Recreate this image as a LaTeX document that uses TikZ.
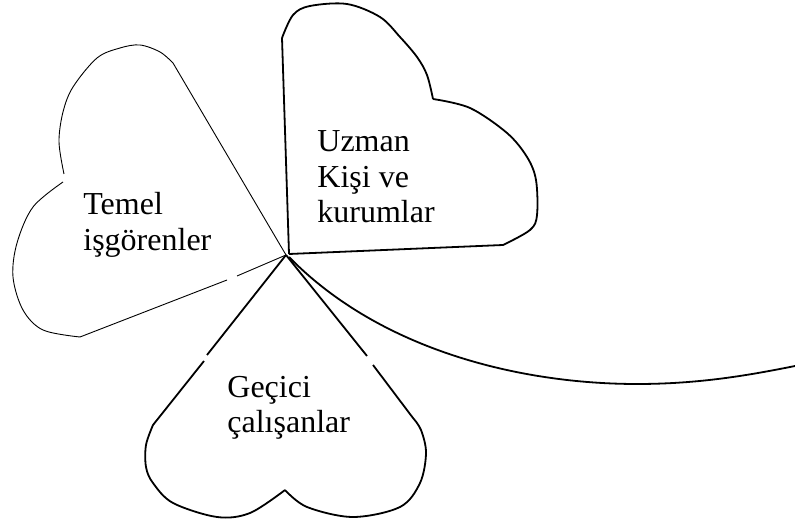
\documentclass[tikz,border=0pt]{standalone}
\usepackage{fontspec}
\setmainfont{Liberation Serif}
\begin{document}
\begin{tikzpicture}[x=0.5pt,y=-0.5pt,
  thinleaf/.style={line width=0.45pt,line join=round},
  thickleaf/.style={line width=0.9pt,line join=round},
  label/.style={anchor=base west,inner sep=0pt,font=\fontsize{16}{17.75}\selectfont}]
\useasboundingbox (0,0) rectangle (795,522);
\coordinate (c) at (286,255);
% left leaf (thin)
\draw[thinleaf] plot[smooth,tension=0.55] coordinates {(64,174) (59,142) (63,112) (73,87) (97,58) (120,48) (140,45) (160,52) (173,63)} -- (c);
\draw[thinleaf] (c) -- (237,276);
\draw[thinleaf] (227,280) -- (80,337);
\draw[thinleaf] plot[smooth,tension=0.55] coordinates {(80,337) (43,330) (23,310) (13,277) (17,243) (33,207) (63,182)};
% upper leaf
\coordinate (uc) at (289,254);
\draw[thickleaf] (uc) -- (282,38)
  plot[smooth,tension=0.55] coordinates {(282,38) (293,15) (310,6) (347,4) (380,17) (400,37) (417,57) (427,75) (433,99)}
  plot[smooth,tension=0.55] coordinates {(433,99) (470,108) (507,133) (527,157) (536,180) (537,215) (530,230) (503,245)}
  -- (uc);
% bottom leaf
\draw[thickleaf] (c) -- (207,355);
\draw[thickleaf] (204,361) -- (153,425)
  plot[smooth,tension=0.55] coordinates {(153,425) (146,445) (146,467) (153,483) (173,503) (217,517) (250,513) (285,490)}
  plot[smooth,tension=0.55] coordinates {(285,490) (307,507) (353,517) (400,507) (420,483) (426,453) (421,430) (413,418)}
  -- (373,365);
\draw[thickleaf] (367,356) -- (c);
% stem
\coordinate (stemend) at (795,366);
\draw[thickleaf] (289,257) .. controls (380,350) and (520,384) .. (637,384)
  .. controls (700,384) and (750,375) .. (stemend);
% labels
\node[label] (temel) at (83,215) {\begin{tabular}[t]{@{}l@{}}Temel\\işgörenler\end{tabular}};
\node[label] (uzman) at (317,152) {\begin{tabular}[t]{@{}l@{}}Uzman\\Kişi ve\\kurumlar\end{tabular}};
\node[label] (gecici) at (227,397) {\begin{tabular}[t]{@{}l@{}}Geçici\\çalışanlar\end{tabular}};
\end{tikzpicture}
\end{document}
